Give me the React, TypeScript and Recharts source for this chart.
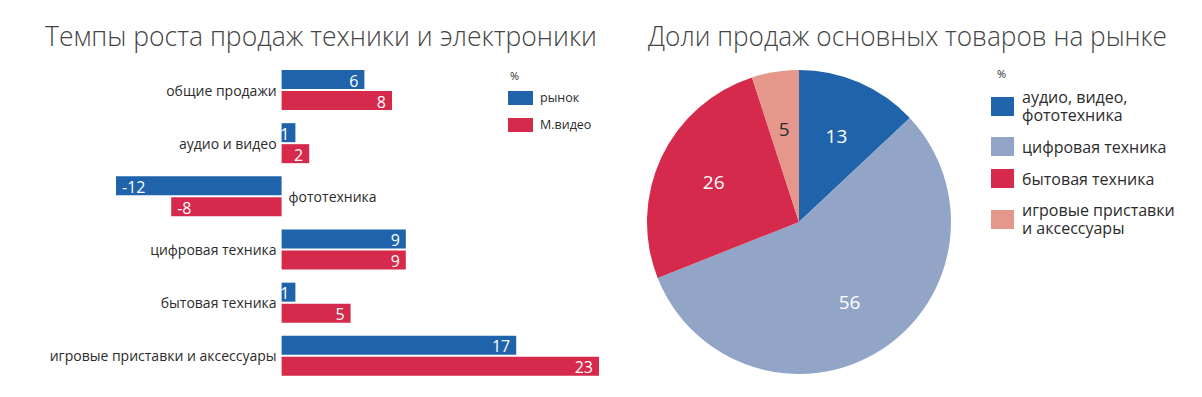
import { BarChart, Bar, XAxis, YAxis, LabelList, PieChart, Pie, Cell } from 'recharts'

const categories = [
  'общие продажи',
  'аудио и видео',
  'фототехника',
  'цифровая техника',
  'бытовая техника',
  'игровые приставки и аксессуары',
]
const marketGrowth = [6, 1, -12, 9, 1, 17]
const mvideoGrowth = [8, 2, -8, 9, 5, 23]
const growthSeries = ['рынок', 'М.видео']

const shareLabels = [
  'аудио, видео, фототехника',
  'цифровая техника',
  'бытовая техника',
  'игровые приставки и аксессуары',
]
const shareValues = [13, 56, 26, 5]

const titles = ['Темпы роста продаж техники и электроники', 'Доли продаж основных товаров на рынке']

const BLUE = '#1f63aa'
const RED = '#d52a4b'
const GROWTH_COLORS = [BLUE, RED]
const SHARE_COLORS = [BLUE, '#93a5c6', RED, '#e5978b']
const FONT = '"Open Sans", "Noto Sans", sans-serif'
const TEXT = '#2b2b2b'

const growthData = categories.map((name, i) => ({
  name,
  market: marketGrowth[i],
  mvideo: mvideoGrowth[i],
}))

const shareData = shareLabels.map((name, i) => ({ name, value: shareValues[i] }))

function box(props: any) {
  const vb = props.viewBox ?? props
  const x = Number(vb.x), w = Number(vb.width)
  return { left: Math.min(x, x + w), right: Math.max(x, x + w), y: Number(vb.y), h: Number(vb.height) }
}

// category name sits beside the zero line, on the side opposite the bars
function CategoryLabel(props: any) {
  const { left, right, y, h } = box(props)
  const negative = marketGrowth[props.index] < 0
  const zero = negative ? right : left
  return (
    <text
      x={negative ? zero + 7 : zero - 5}
      y={y + h + 1}
      textAnchor={negative ? 'start' : 'end'}
      dominantBaseline="central"
      fontSize={14}
      fontFamily={FONT}
      fill={TEXT}
    >
      {props.value}
    </text>
  )
}

function ValueLabel(props: any) {
  const { left, right, y, h } = box(props)
  const negative = Number(props.value) < 0
  return (
    <text
      x={negative ? left + 6 : right - 6}
      y={y + h / 2 + 1}
      textAnchor={negative ? 'start' : 'end'}
      dominantBaseline="central"
      fontSize={16}
      fontFamily={FONT}
      fill="#fff"
    >
      {props.value}
    </text>
  )
}

const RAD = Math.PI / 180
function ShareLabel(p: any) {
  const r = p.outerRadius * 0.62
  const x = p.cx + r * Math.cos(-p.midAngle * RAD)
  const y = p.cy + r * Math.sin(-p.midAngle * RAD)
  return (
    <text
      x={x}
      y={y}
      textAnchor="middle"
      dominantBaseline="central"
      fontSize={19}
      fontFamily={FONT}
      fill={p.index === 3 ? TEXT : '#fff'}
    >
      {p.value}
    </text>
  )
}

export default function App() {
  return (
    <div style={{ position: 'relative', width: 1202, height: 397, marginLeft: -8, marginTop: -8, background: '#fff', fontFamily: FONT, color: TEXT }}>
      <svg width={1202} height={60} style={{ position: 'absolute', left: 0, top: 0 }}>
        <text x={45} y={46} fontSize={28} fontWeight={300} fontFamily={FONT} fill="#444" textLength={552} lengthAdjust="spacingAndGlyphs">
          {titles[0]}
        </text>
        <text x={648} y={46} fontSize={28} fontWeight={300} fontFamily={FONT} fill="#444" textLength={519} lengthAdjust="spacingAndGlyphs">
          {titles[1]}
        </text>
      </svg>

      <div style={{ position: 'absolute', left: 0, top: 0 }}>
        <BarChart
          width={620}
          height={397}
          data={growthData}
          layout="vertical"
          margin={{ top: 63, right: 21, bottom: 15, left: 116 }}
          barSize={19}
          barGap={2}
        >
          <XAxis type="number" domain={[-12, 23]} hide />
          <YAxis type="category" dataKey="name" hide />
          <Bar dataKey="market" name={growthSeries[0]} fill={BLUE} isAnimationActive={false}>
            <LabelList dataKey="market" content={<ValueLabel />} />
            <LabelList dataKey="name" content={<CategoryLabel />} />
          </Bar>
          <Bar dataKey="mvideo" name={growthSeries[1]} fill={RED} isAnimationActive={false}>
            <LabelList dataKey="mvideo" content={<ValueLabel />} />
          </Bar>
        </BarChart>
      </div>

      <div style={{ position: 'absolute', left: 508, top: 68 }}>
        <div style={{ fontSize: 11, marginLeft: 2, height: 16 }}>%</div>
        {growthSeries.map((s, i) => (
          <div key={s} style={{ display: 'flex', alignItems: 'center', height: 27, fontSize: 12.5 }}>
            <span style={{ width: 25, height: 14, background: GROWTH_COLORS[i], marginRight: 7 }} />
            {s}
          </div>
        ))}
      </div>

      <div style={{ position: 'absolute', left: 620, top: 0 }}>
        <PieChart width={582} height={397} margin={{ top: 0, right: 0, bottom: 0, left: 0 }}>
          <Pie
            data={shareData}
            dataKey="value"
            nameKey="name"
            cx={179}
            cy={222}
            outerRadius={152}
            startAngle={90}
            endAngle={-270}
            stroke="none"
            labelLine={false}
            label={ShareLabel}
            isAnimationActive={false}
          >
            {shareData.map((d, i) => (
              <Cell key={d.name} fill={SHARE_COLORS[i]} />
            ))}
          </Pie>
        </PieChart>
      </div>

      <div style={{ position: 'absolute', left: 991, top: 66, width: 205 }}>
        <div style={{ fontSize: 11, marginLeft: 6, height: 22 }}>%</div>
        {shareLabels.map((s, i) => (
          <div key={s} style={{ display: 'flex', alignItems: 'center', marginBottom: 13 }}>
            <span style={{ flex: '0 0 23px', height: 19, background: SHARE_COLORS[i], marginRight: 8 }} />
            <span style={{ width: 160, fontSize: 16, lineHeight: '18px' }}>{s}</span>
          </div>
        ))}
      </div>
    </div>
  )
}
